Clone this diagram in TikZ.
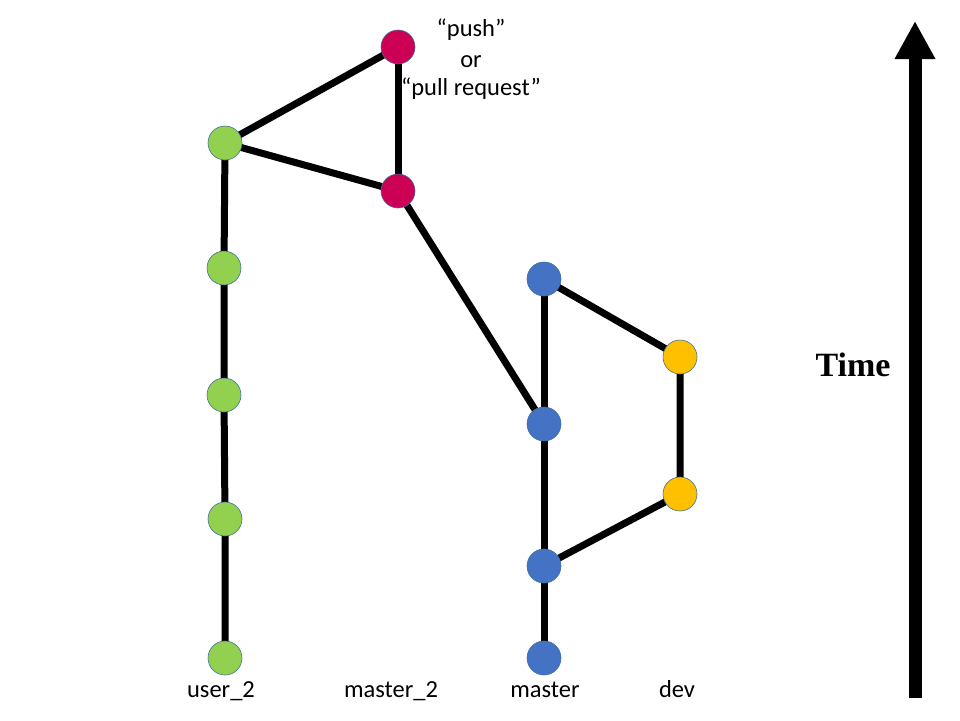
\documentclass[tikz,border=0pt]{standalone}
\usepackage{fontspec}
\setmainfont{Carlito}
\newfontfamily\timefont{Liberation Serif}
\usetikzlibrary{arrows.meta, backgrounds}

\definecolor{usergreen}{HTML}{92D050}
\definecolor{masterred}{HTML}{CC0055}
\definecolor{masterblue}{HTML}{4472C4}
\definecolor{devyellow}{HTML}{FFC000}
\definecolor{rimblue}{HTML}{41719C}

\begin{document}
\begin{tikzpicture}[x=1pt,y=-1pt,
  commit/.style={circle, draw=rimblue, line width=0.6pt, minimum size=34pt, inner sep=0pt},
  link/.style={line width=7pt},
  lbl/.style={font=\fontsize{24.5}{29}\selectfont, inner sep=0pt, anchor=base}]
\useasboundingbox (0,0) rectangle (960,720);
% user_2
\node[commit, fill=usergreen] (u1) at (225,658) {};
\node[commit, fill=usergreen] (u2) at (225,519) {};
\node[commit, fill=usergreen] (u3) at (224,395) {};
\node[commit, fill=usergreen] (u4) at (224,268) {};
\node[commit, fill=usergreen] (u5) at (225,143) {};
% master_2
\node[commit, fill=masterred] (r1) at (398,191) {};
\node[commit, fill=masterred] (r2) at (398,47) {};
% master
\node[commit, fill=masterblue] (b1) at (544,658) {};
\node[commit, fill=masterblue] (b2) at (544,566) {};
\node[commit, fill=masterblue] (b3) at (544,424) {};
\node[commit, fill=masterblue] (b4) at (544,279) {};
% dev
\node[commit, fill=devyellow] (d1) at (680,494) {};
\node[commit, fill=devyellow] (d2) at (680,357) {};
% links
\begin{pgfonlayer}{background}
\draw[link] (u1.center) -- (u2.center) -- (u3.center) -- (u4.center) -- (u5.center);
\draw[link] (u5.center) -- (r2.center);
\draw[link] (u5.center) -- (r1.center);
\draw[link] (r1.center) -- (r2.center);
\draw[link] (r1.center) -- (b3.center);
\draw[link] (b1.center) -- (b2.center) -- (b3.center) -- (b4.center);
\draw[link] (b4.center) -- (d2.center) -- (d1.center) -- (b2.center);
\end{pgfonlayer}
% labels
\node[lbl] (push) at (471,36) {“push”};
\node[lbl] (or) at (471,67) {or};
\node[lbl] (pr) at (471,95) {“pull request”};
\node[lbl] (lu) at (221,697) {user\_2};
\node[lbl] (lr) at (391,697) {master\_2};
\node[lbl] (lb) at (545,697) {master};
\node[lbl] (ld) at (677,697) {dev};
\node[font=\timefont\bfseries\fontsize{34}{40}\selectfont, inner sep=0pt] (time) at (853,365) {Time};
% time axis
\coordinate (t0) at (915,698);
\coordinate (t1) at (915,21);
\draw[line width=13pt, -{Triangle[length=38pt, width=38pt]}] (t0) -- (t1);
\end{tikzpicture}
\end{document}
